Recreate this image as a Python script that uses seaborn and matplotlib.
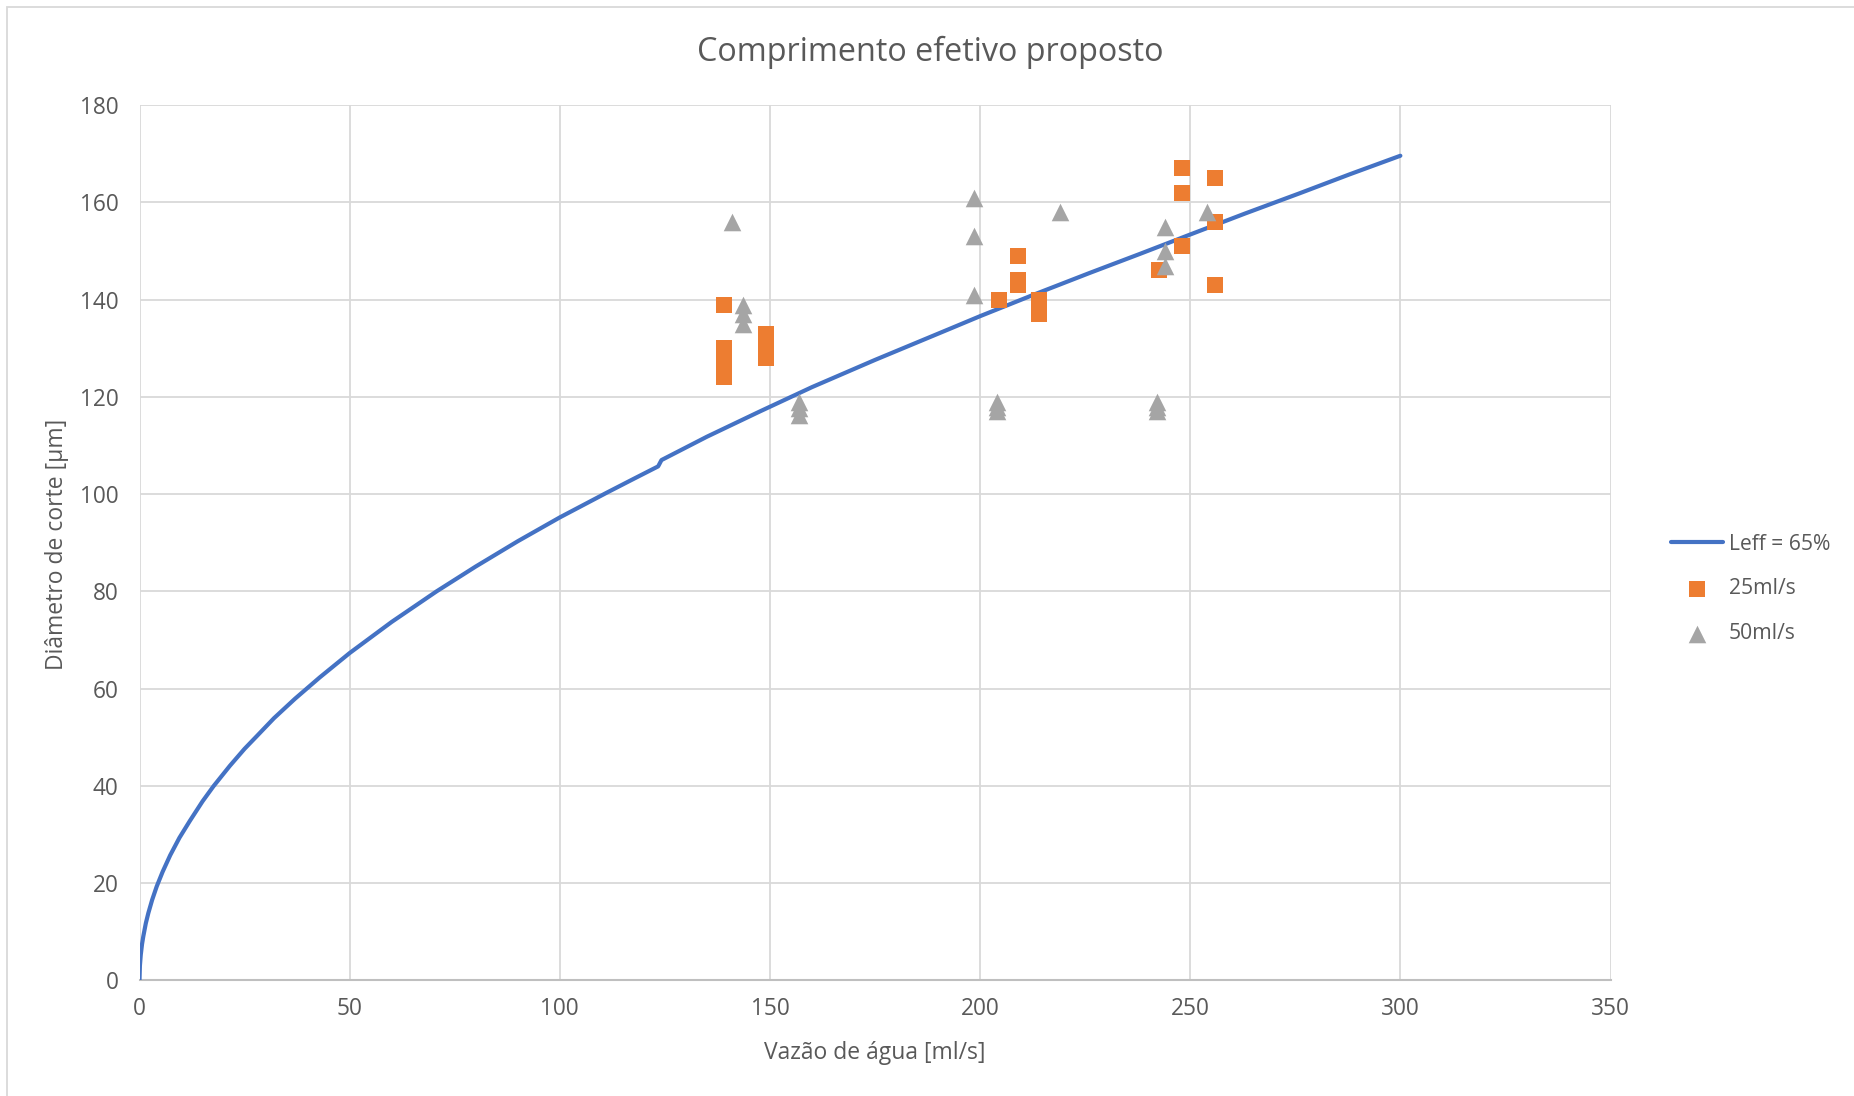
import matplotlib
matplotlib.use("Agg")
import matplotlib.pyplot as plt
import seaborn as sns
from matplotlib.patches import Rectangle

# ---------------- data ----------------
curve_x = [0, 0.1, 0.3, 0.6, 0.9, 1.5, 2.1, 3.0, 4.1, 5.5, 7.3, 9.5, 12.0, 15.0, 17.6,
           21.5, 25.0, 27.9, 32.0, 37.0, 42.9, 50.0, 60.0, 70.7, 80.0, 90.0, 100.0,
           111.2, 117.5, 123.4, 124.2, 135.0, 147.6, 160.0, 175.0, 192.8, 200.0, 213.0,
           226.1, 238.0, 250.0, 263.0, 276.1, 288.0, 300.0]
curve_y = [0, 3.0, 5.2, 7.4, 9.0, 11.7, 13.8, 16.5, 19.3, 22.3, 25.7, 29.3, 32.8, 36.8, 39.9,
           44.1, 47.6, 50.2, 53.9, 57.9, 62.3, 67.3, 73.7, 80.0, 85.1, 90.3, 95.2,
           100.3, 103.1, 105.7, 107.0, 111.8, 117.0, 122.0, 127.6, 134.0, 136.6, 141.1,
           145.5, 149.4, 153.4, 157.7, 161.9, 165.8, 169.6]

q25_x = [139, 139, 139, 139, 139, 149, 149, 149, 209, 209, 209, 204.5, 214, 214, 214,
         248, 248, 248, 242.5, 256, 256, 256]
q25_y = [139, 124, 126, 128, 130, 128, 130.5, 133, 149, 144, 143, 140, 140, 138.5, 137,
         167, 162, 151, 146, 165, 156, 143]

q50_x = [141, 143.5, 143.5, 143.5, 157, 157, 157, 198.5, 198.5, 198.5, 204, 204, 204,
         219, 242, 242, 242, 244, 244, 244, 254]
q50_y = [156, 139, 137, 135, 119, 117.7, 116.2, 161, 153, 141, 119, 118, 117,
         158, 119, 118, 117, 155, 150, 147, 158]

title = "Comprimento efetivo proposto"
xlabel = "Vazão de água [ml/s]"
ylabel = "Diâmetro de corte [µm]"
labels = ["Leff = 65%", "25ml/s", "50ml/s"]
x_ticks = [0, 50, 100, 150, 200, 250, 300, 350]
y_ticks = [0, 20, 40, 60, 80, 100, 120, 140, 160, 180]

# ---------------- style ----------------
sns.set_theme(style="white")
plt.rcParams['font.family'] = ['Open Sans', 'DejaVu Sans']
TXT = "#595959"
GRID = "#d9d9d9"
BLUE = "#4472C4"
ORANGE = "#ED7D31"
GRAY = "#A5A5A5"

W, H = 1854, 1096
fig = plt.figure(figsize=(W / 100, H / 100), dpi=100)
ax = fig.add_axes([139.5 / W, 1 - 980.2 / H, 1471 / W, 875 / H])

sns.lineplot(x=curve_x, y=curve_y, sort=False, color=BLUE, linewidth=3.0,
             label=labels[0], ax=ax, zorder=3)
sns.scatterplot(x=q25_x, y=q25_y, marker="s", s=120, color=ORANGE, linewidth=0,
                label=labels[1], ax=ax, zorder=4)
sns.scatterplot(x=q50_x, y=q50_y, marker="^", s=160, color=GRAY, linewidth=0,
                label=labels[2], ax=ax, zorder=4)

ax.set_xlim(0, 350)
ax.set_ylim(0, 180)
ax.set_xticks(x_ticks)
ax.set_yticks(y_ticks)
ax.grid(True, color=GRID, linewidth=1.3, zorder=0)
ax.set_axisbelow(True)
for s in ["top", "right", "left"]:
    ax.spines[s].set_visible(False)
ax.spines["bottom"].set_color("#bfbfbf")
ax.spines["bottom"].set_linewidth(1.5)
ax.tick_params(axis="both", length=0, labelsize=16.3, labelcolor=TXT)
ax.tick_params(axis="x", pad=12)
ax.tick_params(axis="y", pad=15)

ax.set_xlabel(xlabel, fontsize=16.5, color=TXT)
ax.set_ylabel(ylabel, fontsize=16.5, color=TXT)
ax.xaxis.set_label_coords(0.5, (980.2 - 1053) / 875)
ax.xaxis.label.set_va("center")
ax.yaxis.set_label_coords((56.8 - 139.5) / 1471, 0.4985)
ax.yaxis.label.set_va("center")

fig.text(930.5 / W, 1 - 52 / H, title, ha="center", va="center",
         fontsize=23.3, color=TXT)

if ax.legend_:
    ax.legend_.remove()
handles, labs = ax.get_legend_handles_labels()
fig.legend(handles, labs, loc="center left", bbox_to_anchor=(1671 / W, 1 - 589 / H),
           frameon=False, fontsize=15.2, labelcolor=TXT, borderaxespad=0, borderpad=0,
           handlelength=2.45, handletextpad=0.28, labelspacing=1.12)

fig.patches.append(Rectangle((7 / W, -0.1), 1.2, 1 - 7 / H + 0.1, transform=fig.transFigure,
                             fill=False, edgecolor=GRID, linewidth=1.3))

fig.savefig("out.png", dpi=100, facecolor="white")
